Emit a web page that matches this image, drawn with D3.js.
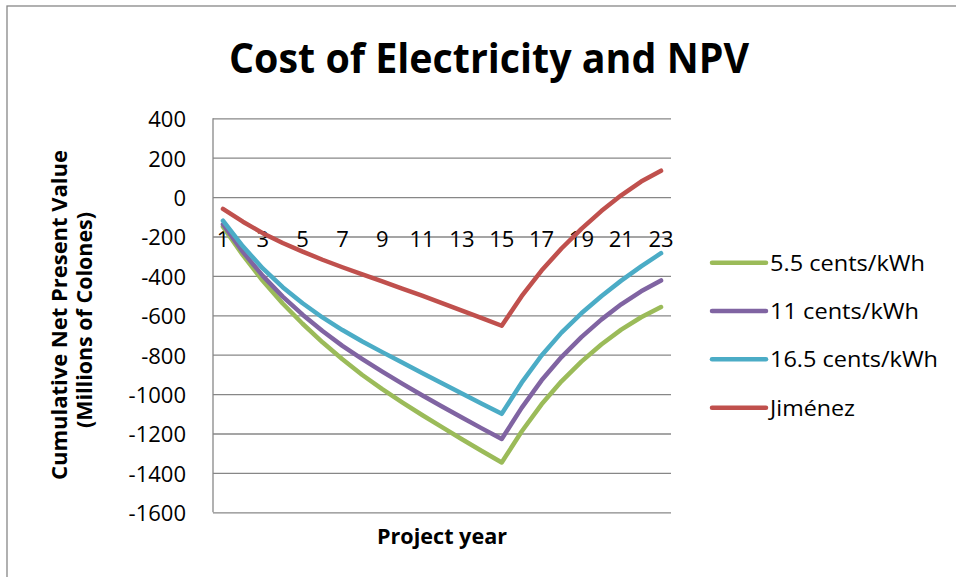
<!DOCTYPE html>
<html>
<head>
<meta charset="utf-8">
<script src="https://cdn.jsdelivr.net/npm/d3@7"></script>
<style>
  html, body { margin: 0; padding: 0; background: #fff; }
  svg { display: block; font-family: "Open Sans", "Noto Sans", sans-serif; }
</style>
</head>
<body>
<svg id="chart" width="956" height="577"></svg>
<script>
const years = d3.range(1, 24).map(String);
const xTickLabels = ["1","3","5","7","9","11","13","15","17","19","21","23"];
const yTicks = [400, 200, 0, -200, -400, -600, -800, -1000, -1200, -1400, -1600];
const seriesNames = ["5.5 cents/kWh", "11 cents/kWh", "16.5 cents/kWh", "Jiménez"];
const seriesColors = ["#9BBB59", "#8064A2", "#4BACC6", "#C0504D"];
const cents55 = [-150,-295,-425,-540,-643,-737,-823,-903,-975,-1042,-1106,-1168,-1229,-1289,-1347,-1190,-1052,-935,-835,-748,-673,-610,-558];
const cents11 = [-138,-278,-400,-505,-597,-680,-755,-822,-886,-947,-1006,-1063,-1119,-1174,-1228,-1070,-930,-812,-711,-622,-544,-478,-423];
const cents165 = [-120,-250,-362,-457,-539,-611,-675,-733,-787,-840,-893,-945,-997,-1049,-1100,-942,-804,-688,-590,-503,-424,-352,-285];
const jimenez = [-60,-125,-183,-233,-277,-318,-356,-392,-428,-464,-500,-538,-576,-614,-653,-503,-373,-261,-161,-71,9,79,134];
const seriesValues = [cents55, cents11, cents165, jimenez];

const svg = d3.select("#chart");
const plot = { left: 213, right: 671, top: 118.3, bottom: 512.3 };

// outer chart border
svg.append("rect").attr("x", 7).attr("y", 6).attr("width", 1000).attr("height", 1000)
  .attr("fill", "none").attr("stroke", "#878787").attr("stroke-width", 1.3);

const x = d3.scaleBand().domain(years).range([plot.left, plot.right]).paddingInner(0).paddingOuter(0);
const y = d3.scaleLinear().domain([-1600, 400]).range([plot.bottom, plot.top]);
const cx = d => x(d) + x.bandwidth() / 2;

// gridlines
const grid = svg.append("g").attr("transform", `translate(${plot.left},0)`)
  .call(d3.axisLeft(y).tickValues(yTicks).tickSize(-(plot.right - plot.left)).tickFormat(""));
grid.select(".domain").remove();
grid.selectAll("line").attr("stroke", "#878787").attr("stroke-width", 1.3);

// vertical axis line
svg.append("line").attr("x1", plot.left).attr("x2", plot.left)
  .attr("y1", y(400)).attr("y2", y(-1600))
  .attr("stroke", "#878787").attr("stroke-width", 1.3);

// y tick labels (plain hyphen minus)
const yAx = svg.append("g").attr("transform", `translate(${plot.left},0)`)
  .call(d3.axisLeft(y).tickValues(yTicks).tickSize(0).tickPadding(27).tickFormat(d => String(d)));
yAx.select(".domain").remove();
yAx.selectAll("text").attr("font-family", "Open Sans").attr("font-size", 22)
  .attr("fill", "#000").attr("dy", "0.38em");

// x tick labels
const xAx = svg.append("g").attr("transform", `translate(0,231)`)
  .call(d3.axisBottom(x).tickValues(xTickLabels).tickSize(0).tickPadding(0));
xAx.select(".domain").remove();
xAx.selectAll("text").attr("font-family", "Open Sans").attr("font-size", 22)
  .attr("fill", "#000").attr("dy", "0.71em");

// lines
const line = d3.line().x((d, i) => cx(years[i])).y(d => y(d));
seriesValues.forEach((vals, k) => {
  svg.append("path").datum(vals)
    .attr("d", line)
    .attr("fill", "none")
    .attr("stroke", seriesColors[k])
    .attr("stroke-width", 4.5)
    .attr("stroke-linejoin", "round")
    .attr("stroke-linecap", "round");
});

// title
svg.append("text").attr("x", 489).attr("y", 73).attr("text-anchor", "middle")
  .attr("font-family", "Open Sans").attr("font-weight", "bold").attr("font-size", 42)
  .attr("textLength", 520).attr("lengthAdjust", "spacingAndGlyphs")
  .text("Cost of Electricity and NPV");

// y axis title
svg.append("text").attr("transform", "translate(67,315) rotate(-90)")
  .attr("text-anchor", "middle").attr("font-family", "Open Sans").attr("font-weight", "bold")
  .attr("font-size", 22).attr("textLength", 330).attr("lengthAdjust", "spacingAndGlyphs")
  .text("Cumulative Net Present Value");
svg.append("text").attr("transform", "translate(92,320) rotate(-90)")
  .attr("text-anchor", "middle").attr("font-family", "Open Sans").attr("font-weight", "bold")
  .attr("font-size", 22).attr("textLength", 216).attr("lengthAdjust", "spacingAndGlyphs")
  .text("(Millions of Colones)");

// x axis title
svg.append("text").attr("x", 442).attr("y", 544).attr("text-anchor", "middle")
  .attr("font-family", "Open Sans").attr("font-weight", "bold").attr("font-size", 22)
  .attr("textLength", 130).attr("lengthAdjust", "spacingAndGlyphs")
  .text("Project year");

// legend
const legendY = [262.7, 311, 359.3, 407.7];
const legendW = [155, 149, 168, 85];
seriesNames.forEach((name, k) => {
  svg.append("line").attr("x1", 712).attr("x2", 766)
    .attr("y1", legendY[k]).attr("y2", legendY[k])
    .attr("stroke", seriesColors[k]).attr("stroke-width", 4.5).attr("stroke-linecap", "round");
  svg.append("text").attr("x", 770).attr("y", legendY[k] + 8)
    .attr("font-family", "Open Sans").attr("font-size", 22).attr("fill", "#000")
    .attr("textLength", legendW[k]).attr("lengthAdjust", "spacingAndGlyphs")
    .text(name);
});
</script>
</body>
</html>
